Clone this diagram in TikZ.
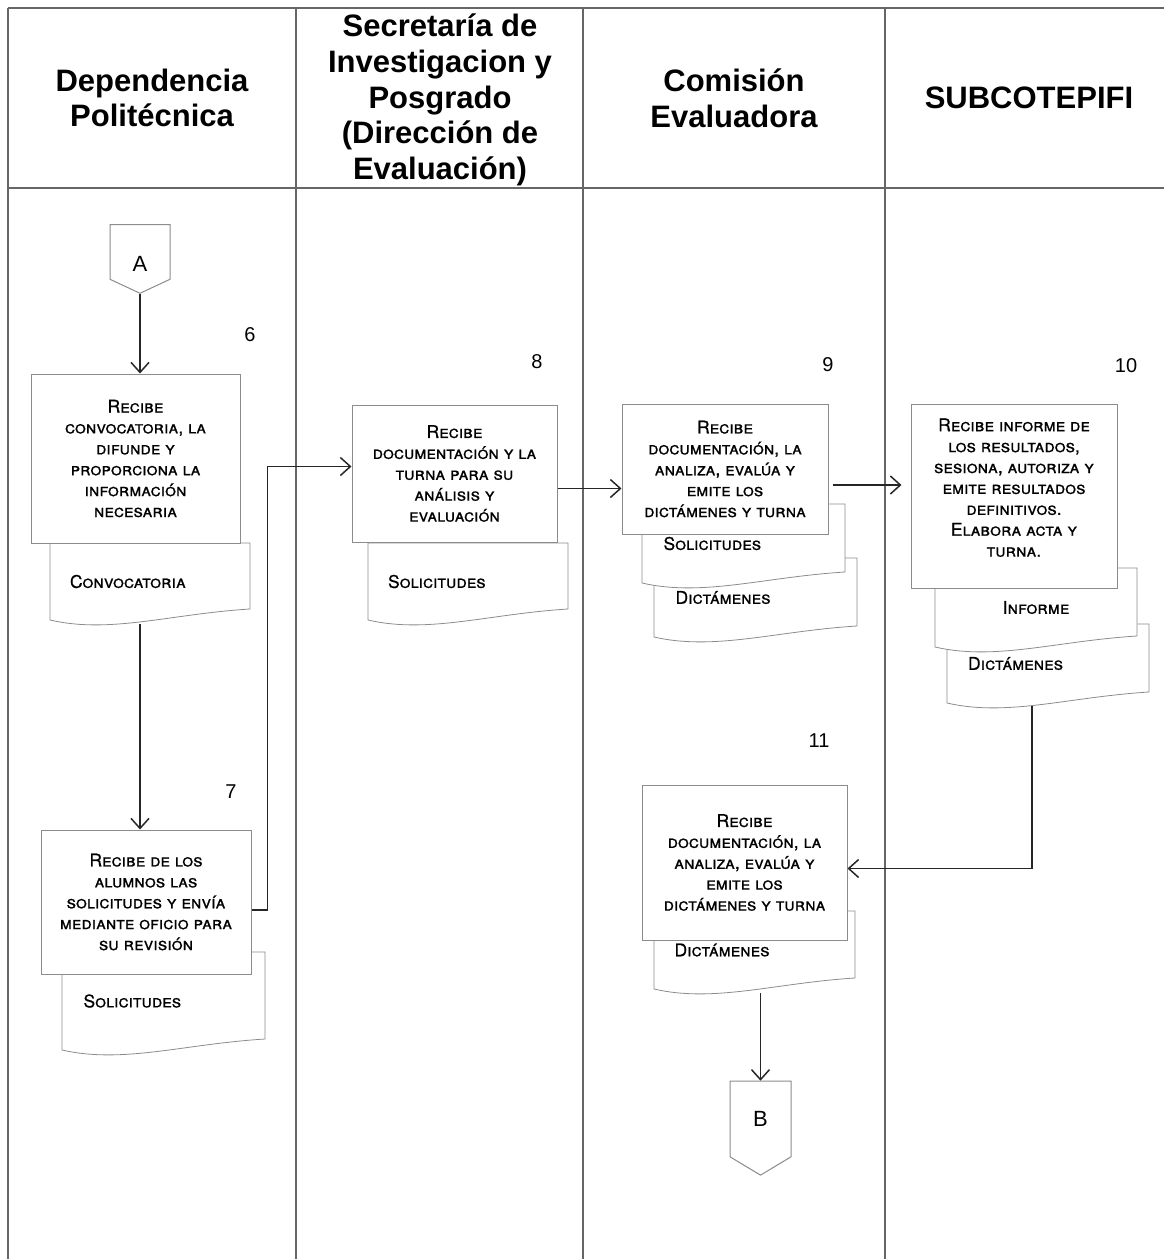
\documentclass[tikz,border=0pt]{standalone}
\usepackage{fontspec}
\setmainfont{Liberation Sans}
\newfontfamily\scfont{TeX Gyre Heros}[FakeBold=0.6]
\usetikzlibrary{arrows.meta, positioning, calc, shapes.symbols}
\tikzset{
    lane/.style={draw=black!60, line width=1.8pt},
    lanehead/.style={align=center, inner sep=0pt, font=\fontsize{31}{35.6}\selectfont\bfseries},
    stepbox/.style={rectangle, draw=black!45, fill=white, line width=1pt, align=center, inner sep=2pt, font=\scfont\fontsize{17.5}{20.9}\selectfont\scshape},
    docnode/.style={rectangle, inner sep=0pt, text width=160pt, font=\scfont\fontsize{17.5}{20.9}\selectfont\scshape},
    docline/.style={draw=black!45, fill=white, line width=0.8pt},
    offpage/.style={signal, signal to=south, draw=black!45, fill=white, line width=1pt, inner sep=0pt, font=\fontsize{22}{26}\selectfont},
    stepnum/.style={inner sep=0pt, font=\fontsize{20}{24}\selectfont},
    flow/.style={-{Straight Barb[length=10pt,width=18pt]}, line width=1.5pt, draw=black!85}
}
% document outline: x, y (centre), width, height
\newcommand{\docwave}[4]{%
    \draw[docline] (#1-#3/2,#2+#4/2) .. controls (#1-#3/2+0.3*#3,#2+#4/2+14) and (#1-#3/2+0.6*#3,#2+#4/2-6) .. (#1+#3/2,#2+#4/2-11)
        -- (#1+#3/2,#2-#4/2) -- (#1-#3/2,#2-#4/2) -- cycle;}

\begin{document}
\begin{tikzpicture}[x=1pt, y=-1pt]
    \useasboundingbox (0,0) rectangle (1164,1259);

    % Lanes
    \draw[lane] (8,8) -- (1164,8);
    \draw[lane] (8,188) -- (1164,188);
    \foreach \xl in {8,296,583,885} \draw[lane] (\xl,8) -- (\xl,1259);
    \node[lanehead] (dep) at (152,98) {Dependencia\\Politécnica};
    \node[lanehead] (sip) at (440,100) {Secretaría de\\Investigacion y\\Posgrado\\(Dirección de\\Evaluación)};
    \node[lanehead] (com) at (734,98) {Comisión\\Evaluadora};
    \node[lanehead] (sub) at (1029,98) {SUBCOTEPIFI};

    % Step numbers
    \node[stepnum] (n6) at (250,335) {6};
    \node[stepnum] (n7) at (231,792) {7};
    \node[stepnum] (n8) at (537,362) {8};
    \node[stepnum] (n9) at (828,365) {9};
    \node[stepnum] (n10) at (1126,366) {10};
    \node[stepnum] (n11) at (819,741) {11};

    % Dependencia Politecnica
    \node[offpage, minimum width=60, minimum height=58, signal pointer angle=130, text height=38pt] (A) at (140,252) {A};
    \docwave{150}{581.5}{200}{77}
    \node[docnode, minimum width=200, minimum height=77, align=left] (convdoc) at (150,581.5) {Convocatoria};
    \node[stepbox, minimum width=209, minimum height=169] (s6) at (135.5,458.5) {Recibe\\convocatoria, la\\difunde y\\proporciona la\\información\\necesaria};
    \docwave{163.5}{1001}{203}{98}
    \node[docnode, minimum width=203, minimum height=98, align=left] (d7) at (163.5,1001) {Solicitudes};
    \node[stepbox, minimum width=210, minimum height=144] (s7) at (146,902) {Recibe de los\\alumnos las\\solicitudes y envía\\mediante oficio para\\su revisión};

    % Secretaria
    \docwave{468}{581.5}{200}{77}
    \node[docnode, minimum width=200, minimum height=77, align=left] (d8) at (468,581.5) {Solicitudes};
    \node[stepbox, minimum width=205, minimum height=137] (s8) at (454.5,473.5) {Recibe\\documentación y la\\turna para su\\análisis y\\evaluación};

    % Comision Evaluadora
    \docwave{755.5}{597.5}{203}{79}
    \node[docnode, minimum width=203, minimum height=79, align=left] (d9b) at (755.5,597.5) {Dictámenes};
    \docwave{743.5}{543.5}{203}{79}
    \node[docnode, minimum width=203, minimum height=79, align=left] (d9a) at (743.5,543.5) {Solicitudes};
    \node[stepbox, minimum width=206, minimum height=130] (s9) at (725,469) {Recibe\\documentación, la\\analiza, evalúa y\\emite los\\dictámenes y turna};
    \docwave{754.5}{950}{201}{78}
    \node[docnode, minimum width=201, minimum height=78, align=left] (d11) at (754.5,950) {Dictámenes};
    \node[stepbox, minimum width=205, minimum height=155] (s11) at (744.5,862.5) {Recibe\\documentación, la\\analiza, evalúa y\\emite los\\dictámenes y turna};
    \node[offpage, minimum width=61, minimum height=80, signal pointer angle=118] (B) at (760.5,1119) {B};

    % SUBCOTEPIFI
    \docwave{1048}{663.5}{202}{79}
    \node[docnode, minimum width=202, minimum height=79, align=left] (d10b) at (1048,663.5) {Dictámenes};
    \docwave{1036}{607.5}{202}{79}
    \node[docnode, minimum width=202, minimum height=79, align=center] (d10a) at (1036,607.5) {Informe};
    \node[stepbox, minimum width=206, minimum height=184] (s10) at (1014,496) {Recibe informe de\\los resultados,\\sesiona, autoriza y\\emite resultados\\definitivos.\\Elabora acta y\\turna.\\[-4pt]\mbox{}};

    % Flow
    \draw[flow] (A.south) -- (A.south |- s6.north);
    \draw[flow, shorten <=4pt] (convdoc.south -| A.south) -- (s7.north -| A.south);
    \draw[flow] ($(s7.east)+(0,8)$) -| ($(s8.west)+(-84,-7)$) -- ($(s8.west)+(0,-7)$);
    \coordinate (o8) at ($(s8.east)+(0,15)$);
    \draw[flow] (o8) -- (o8 -| s9.west);
    \coordinate (o9) at ($(s9.east)+(0,16)$);
    \draw[flow, shorten <=4pt, shorten >=9pt] (o9) -- (o9 -| s10.west);
    \draw[flow, shorten <=3pt] ($(d10b.south)+(-16,0)$) |- ($(s11.east)+(0,6)$);
    \draw[flow, shorten <=4pt] (d11.south -| B.north) -- (B.north);
\end{tikzpicture}
\end{document}
